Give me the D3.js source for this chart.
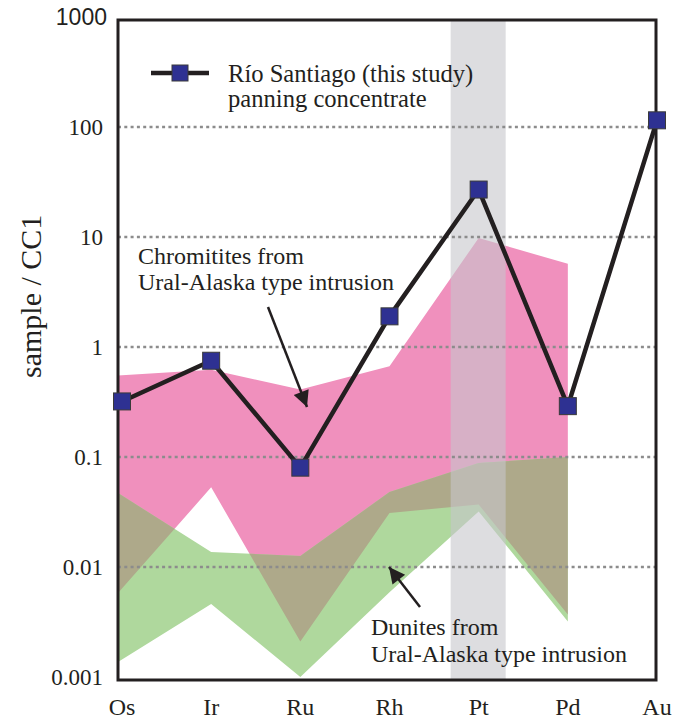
<!DOCTYPE html>
<html>
<head>
<meta charset="utf-8">
<script src="https://cdn.jsdelivr.net/npm/d3@7"></script>
<style>
  body { margin: 0; background: #fff; }
  text { font-family: "Liberation Serif", "Times New Roman", serif; fill: #231f20; }
</style>
</head>
<body>
<div id="viz-container"></div>
<script>
// element order on x
let elements = ['Os', 'Ir', 'Ru', 'Rh', 'Pt', 'Pd', 'Au'];

// Rio Santiago panning concentrate, sample / CC1
let rioSantiago = [0.32, 0.75, 0.08, 1.9, 27, 0.29, 115];

// chromitites field (Os..Pd)
let chromUpper = [0.55, 0.62, 0.41, 0.67, 9.8, 5.7];
let chromLower = [0.0058, 0.053, 0.0021, 0.031, 0.037, 0.0037];

// dunites field (Os..Pd)
let duniteUpper = [0.047, 0.0137, 0.0126, 0.048, 0.088, 0.1];
let duniteLower = [0.00137, 0.0046, 0.001, 0.0059, 0.032, 0.0032];

let yTicks = [1000, 100, 10, 1, 0.1, 0.01, 0.001];
let yTickLabels = ['1000', '100', '10', '1', '0.1', '0.01', '0.001'];
let gridValues = [100, 10, 1, 0.1, 0.01];

// frame
let fLeft = 118, fRight = 656, fTop = 20, fBottom = 680;

let svg = d3.select('#viz-container')
  .append('svg')
    .attr('width', 673)
    .attr('height', 721);

let x = d3.scalePoint().domain(elements).range([122, 657]);
let y = d3.scaleLog().domain([0.001, 1000]).range([677, 17]);

let field = elements.slice(0, 6);

let area = d3.area()
  .x(function(d){ return d.el === 'Os' ? fLeft : x(d.el); })
  .y0(function(d){ return y(d.lo); })
  .y1(function(d){ return y(d.hi); });

let chromData = field.map(function(el, i){ return {el: el, hi: chromUpper[i], lo: chromLower[i]}; });
let duniteData = field.map(function(el, i){ return {el: el, hi: duniteUpper[i], lo: duniteLower[i]}; });

let defs = svg.append('defs');
defs.append('clipPath')
    .attr('id', 'duniteClip')
  .append('path')
    .attr('d', area(duniteData));

defs.append('marker')
    .attr('id', 'head')
    .attr('viewBox', '0 0 10 10')
    .attr('refX', 10)
    .attr('refY', 5)
    .attr('markerUnits', 'userSpaceOnUse')
    .attr('markerWidth', 22)
    .attr('markerHeight', 16)
    .attr('orient', 'auto')
  .append('path')
    .attr('d', 'M0,0 L10,5 L0,10 Z')
    .attr('fill', '#231f20');

//fields
svg.append('path')
  .attr('d', area(chromData))
  .attr('fill', '#f090bd');

svg.append('path')
  .attr('d', area(duniteData))
  .attr('fill', '#afd89d');

// overlap of both fields
svg.append('path')
  .attr('d', area(chromData))
  .attr('fill', '#aea98a')
  .attr('clip-path', 'url(#duniteClip)');

// Pt band
svg.append('rect')
  .attr('x', x('Pt') - 28)
  .attr('y', fTop)
  .attr('width', 55)
  .attr('height', fBottom - fTop)
  .attr('fill', '#c6c7cb')
  .attr('opacity', 0.6);

//grid
svg.selectAll('.grid').data(gridValues).enter()
  .append('line')
    .attr('class', 'grid')
    .attr('x1', fLeft)
    .attr('x2', fRight)
    .attr('y1', function(d){ return y(d); })
    .attr('y2', function(d){ return y(d); })
    .attr('stroke', '#8c8c8c')
    .attr('stroke-width', 2.6)
    .attr('stroke-dasharray', '3,3.3');

//frame
svg.append('rect')
  .attr('x', fLeft)
  .attr('y', fTop)
  .attr('width', fRight - fLeft)
  .attr('height', fBottom - fTop)
  .attr('fill', 'none')
  .attr('stroke', '#231f20')
  .attr('stroke-width', 3);

// y tick labels
svg.selectAll('.ytick').data(yTicks).enter()
  .append('text')
    .attr('class', 'ytick')
    .attr('x', function(d){ return d === 1000 ? 107 : 103; })
    .attr('y', function(d){ return y(d); })
    .attr('dy', '0.35em')
    .attr('text-anchor', 'end')
    .attr('font-size', 23)
    .style('font-family', function(d){ return d === 1000 ? '"Liberation Sans", Arial, sans-serif' : null; })
    .text(function(d, i){ return yTickLabels[i]; });

// x labels
svg.selectAll('.xtick').data(elements).enter()
  .append('text')
    .attr('class', 'xtick')
    .attr('x', function(d){ return x(d); })
    .attr('y', 715)
    .attr('text-anchor', 'middle')
    .attr('font-size', 24)
    .text(function(d){ return d; });

// y title
svg.append('text')
  .attr('transform', 'translate(41,378) rotate(-90)')
  .attr('font-size', 30)
  .text('sample / CC1');

// series
let line = d3.line()
  .x(function(d, i){ return x(elements[i]); })
  .y(function(d){ return y(d); });

svg.append('path')
  .attr('d', line(rioSantiago))
  .attr('fill', 'none')
  .attr('stroke', '#231f20')
  .attr('stroke-width', 4.5)
  .attr('stroke-linejoin', 'miter');

svg.selectAll('.pt').data(rioSantiago).enter()
  .append('rect')
    .attr('class', 'pt')
    .attr('x', function(d, i){ return x(elements[i]) - 8.5; })
    .attr('y', function(d){ return y(d) - 8.5; })
    .attr('width', 17)
    .attr('height', 17)
    .attr('fill', '#2e3192')
    .attr('stroke', '#3a3a3a')
    .attr('stroke-width', 1);

// legend
svg.append('line')
  .attr('x1', 151).attr('x2', 209)
  .attr('y1', 73).attr('y2', 73)
  .attr('stroke', '#231f20')
  .attr('stroke-width', 4.5);
svg.append('rect')
  .attr('x', 172).attr('y', 65)
  .attr('width', 16).attr('height', 16)
  .attr('fill', '#2e3192')
  .attr('stroke', '#3a3a3a');
svg.append('text').attr('x', 228).attr('y', 82).attr('font-size', 24.6).text('Río Santiago (this study)');
svg.append('text').attr('x', 228).attr('y', 107).attr('font-size', 24.6).text('panning concentrate');

// annotations
svg.append('text').attr('x', 138).attr('y', 264).attr('font-size', 24).text('Chromitites from');
svg.append('text').attr('x', 138).attr('y', 290).attr('font-size', 24).text('Ural-Alaska type intrusion');
svg.append('line')
  .attr('x1', 268).attr('y1', 307)
  .attr('x2', 307).attr('y2', 407)
  .attr('stroke', '#231f20')
  .attr('stroke-width', 2.5)
  .attr('marker-end', 'url(#head)');

svg.append('text').attr('x', 371).attr('y', 635).attr('font-size', 24).text('Dunites from');
svg.append('text').attr('x', 371).attr('y', 662).attr('font-size', 24).text('Ural-Alaska type intrusion');
svg.append('line')
  .attr('x1', 420).attr('y1', 607)
  .attr('x2', 389).attr('y2', 567)
  .attr('stroke', '#231f20')
  .attr('stroke-width', 2.5)
  .attr('marker-end', 'url(#head)');
</script>
</body>
</html>
